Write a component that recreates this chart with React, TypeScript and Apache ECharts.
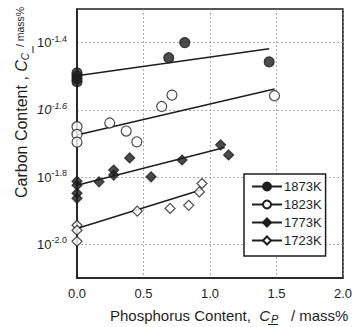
import React, { useEffect, useRef } from "react";
import * as echarts from "echarts";

// Carbon solubility vs phosphorus content; y values are log10(C_C / mass%)
const temps = ["1873K", "1823K", "1773K", "1723K"];
const symbols = ["circle", "circle", "diamond", "diamond"];
const symbolSizes = [10, 10, 10, 10];
const filled = [true, false, true, false];

const pts1873: [number, number][] = [
  [0, -1.49], [0, -1.5], [0, -1.508], [0, -1.516],
  [0.69, -1.445], [0.81, -1.4], [1.445, -1.457],
];
const pts1823: [number, number][] = [
  [0, -1.65], [0, -1.673], [0, -1.696], [0.246, -1.639], [0.37, -1.663],
  [0.45, -1.695], [0.637, -1.59], [0.714, -1.556], [1.485, -1.558],
];
const pts1773: [number, number][] = [
  [0, -1.812], [0, -1.824], [0, -1.848], [0, -1.863], [0.166, -1.814],
  [0.276, -1.779], [0.276, -1.794], [0.396, -1.743], [0.557, -1.799],
  [0.79, -1.749], [1.08, -1.704], [1.14, -1.734],
];
const pts1723: [number, number][] = [
  [0, -1.943], [0, -1.958], [0, -1.991], [0.453, -1.901], [0.7, -1.893],
  [0.84, -1.884], [0.92, -1.844], [0.94, -1.819],
];
const points = [pts1873, pts1823, pts1773, pts1723];

// regression lines: [start, end]
const fit1873: [number, number][] = [[0, -1.4985], [1.445, -1.418]];
const fit1823: [number, number][] = [[0, -1.675], [1.485, -1.538]];
const fit1773: [number, number][] = [[0, -1.824], [1.11, -1.712]];
const fit1723: [number, number][] = [[0, -1.953], [0.93, -1.838]];
const fits = [fit1873, fit1823, fit1773, fit1723];

const yTicks = [-2.0, -1.8, -1.6, -1.4];

const INK = "#1e1e1e";
const FONT = "Liberation Sans, Arial, sans-serif";

export default function App() {
  const ref = useRef<HTMLDivElement>(null);

  useEffect(() => {
    if (!ref.current) return;
    const chart = echarts.init(ref.current, null, { renderer: "svg" });

    const markerStyle = (i: number) => ({
      color: filled[i] ? INK : "#ffffff",
      borderColor: INK,
      borderWidth: 1.2,
    });

    const series: any[] = [];
    temps.forEach((t, i) => {
      series.push({
        name: t,
        type: "line",
        data: fits[i].map((p) => ({ value: p, symbol: "none" })),
        symbol: symbols[i],
        symbolSize: 9,
        showSymbol: true,
        lineStyle: { color: INK, width: 1.6 },
        itemStyle: markerStyle(i),
        z: 2,
      });
      series.push({
        name: t + " data",
        type: "scatter",
        data: points[i],
        symbol: symbols[i],
        symbolSize: symbolSizes[i],
        itemStyle: markerStyle(i),
        z: 3,
      });
    });

    chart.setOption({
      animation: false,
      textStyle: { fontFamily: FONT },
      grid: {
        left: 77,
        top: 9,
        right: 10,
        bottom: 49,
        show: true,
        borderColor: INK,
        borderWidth: 1.6,
      },
      legend: {
        data: temps,
        orient: "vertical",
        left: 244,
        top: 174,
        backgroundColor: "#fff",
        borderColor: INK,
        borderWidth: 1.5,
        borderRadius: 0,
        padding: [6, 4, 9, 7],
        itemWidth: 30,
        itemHeight: 10,
        itemGap: 5,
        textStyle: { fontSize: 13, color: INK, fontFamily: FONT, padding: [0, 0, 0, -3] },
      },
      xAxis: {
        type: "value",
        min: 0,
        max: 2,
        interval: 0.5,
        axisLine: { show: true, lineStyle: { color: INK, width: 1.6 } },
        axisTick: { show: false },
        axisLabel: {
          margin: 9,
          fontSize: 13,
          color: INK,
          formatter: (v: number) => v.toFixed(1),
        },
        splitLine: { show: true, lineStyle: { color: "#999", width: 0.8, type: [2, 2] } },
      },
      yAxis: {
        type: "value",
        min: -2.1,
        max: -1.3,
        axisLine: { show: true, lineStyle: { color: INK, width: 1.6 } },
        axisTick: { show: false, customValues: yTicks },
        axisLabel: {
          customValues: yTicks,
          margin: 10,
          color: INK,
          formatter: (v: number) =>
            (Math.abs(v + 1.6) < 1e-6 ? "{bi|10}{si|" : "{b|10}{s|") + v.toFixed(1) + "}",
          rich: {
            b: { fontSize: 13, color: INK, fontFamily: FONT },
            s: { fontSize: 9, color: INK, fontFamily: FONT, padding: [0, 0, 8, 0] },
            bi: { fontSize: 13, color: INK, fontFamily: FONT, fontStyle: "italic" },
            si: { fontSize: 9, color: INK, fontFamily: FONT, fontStyle: "italic", padding: [0, 0, 8, 0] },
          },
        },
        splitLine: { show: true, lineStyle: { color: "#999", width: 0.8, type: [2, 2] } },
      },
      graphic: [
        // y-axis title, reading upward
        {
          type: "text",
          x: 21,
          y: 198,
          rotation: Math.PI / 2,
          style: {
            text: "{n|Carbon Content , }{i|C}{sub|C}{m|  / mass%}",
            align: "left",
            verticalAlign: "middle",
            fill: INK,
            rich: {
              n: { fontSize: 16, fontFamily: FONT, fill: INK },
              i: { fontSize: 16, fontFamily: FONT, fontStyle: "italic", fill: INK },
              sub: { fontSize: 10, fontFamily: FONT, fontStyle: "italic", fill: INK, padding: [8, 0, 0, 0] },
              m: { fontSize: 10.5, fontFamily: FONT, fill: INK, padding: [0, 0, 2, 0] },
            },
          },
        },
        { type: "line", shape: { x1: 33, y1: 53, x2: 33, y2: 46 }, style: { stroke: INK, lineWidth: 1 } },
        // x-axis title
        {
          type: "text",
          x: 110,
          y: 315,
          style: {
            text: "{n|Phosphorus Content,  }{i|C}{sub|P}{n|   / mass%}",
            align: "left",
            verticalAlign: "middle",
            fill: INK,
            rich: {
              n: { fontSize: 15, fontFamily: FONT, fill: INK },
              i: { fontSize: 15, fontFamily: FONT, fontStyle: "italic", fill: INK },
              sub: { fontSize: 11, fontFamily: FONT, fontStyle: "italic", fill: INK, padding: [7, 0, 0, 1] },
            },
          },
        },
        { type: "line", shape: { x1: 268, y1: 324.5, x2: 278, y2: 324.5 }, style: { stroke: INK, lineWidth: 1 } },
      ],
      series,
    });

    return () => chart.dispose();
  }, []);

  return (
    <div
      ref={ref}
      style={{ position: "absolute", left: 0, top: 0, width: 355, height: 327 }}
    />
  );
}
